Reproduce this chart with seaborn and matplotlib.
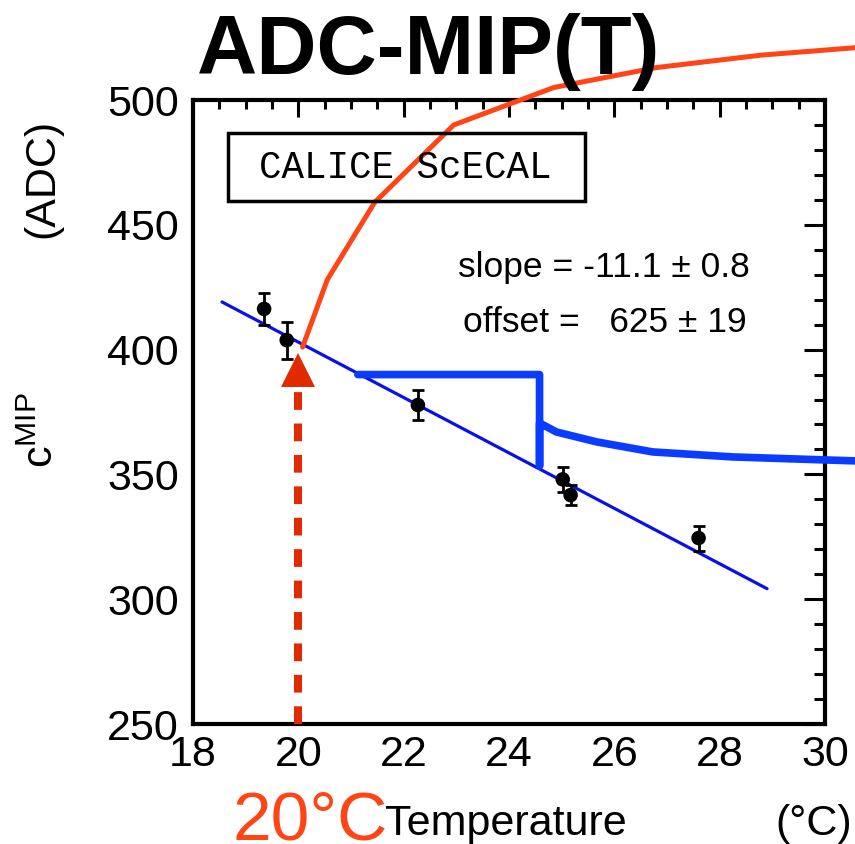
import seaborn as sns
import matplotlib.pyplot as plt
import numpy as np
import pandas as pd
from matplotlib.ticker import MultipleLocator
from matplotlib.patches import Rectangle

# measured points
temp = [19.35, 19.78, 22.27, 25.02, 25.17, 27.6]
adc = [416.3, 403.8, 377.8, 348.0, 341.7, 324.5]
adc_err = [6.4, 7.4, 6.0, 5.0, 4.0, 5.0]

# linear fit
slope, slope_err = -11.1, 0.8
offset, offset_err = 625, 19
fit_x = [18.55, 28.9]

# red curve
red_x = [20.08, 20.55, 21.45, 22.95, 24.85, 26.8, 28.8, 30.6]
red_y = [401, 428, 459, 490, 505, 513, 518, 521]

# thick blue step curve
blue_x = [21.13, 24.58, 24.58, 24.58, 24.9, 25.67, 26.73, 28.25, 30.0, 30.6]
blue_y = [390, 390, 353.4, 370.6, 367, 363, 359, 357, 355.8, 355.4]

ref_temp = 20

sns.set_theme(style="white")
plt.rcParams['font.family'] = ['Liberation Sans', 'DejaVu Sans']
plt.rcParams['text.color'] = 'black'
plt.rcParams['axes.labelcolor'] = 'black'

W, H = 855, 844
fig = plt.figure(figsize=(8.55, 8.44), dpi=100)
ax = fig.add_axes([193/W, 120/H, 632/W, 624/H])

fit_df = pd.DataFrame({"T": fit_x, "ADC": [offset + slope*x for x in fit_x]})
sns.lineplot(data=fit_df, x="T", y="ADC", ax=ax, color="#0a10e8", lw=2.3, zorder=3)

sns.lineplot(x=blue_x, y=blue_y, ax=ax, sort=False, estimator=None,
             color="#0a3cff", lw=5.5, clip_on=False, zorder=3)

sns.lineplot(x=red_x, y=red_y, ax=ax, sort=False, estimator=None,
             color="#ff4415", lw=3.6, clip_on=False, zorder=6)

ax.errorbar(temp, adc, yerr=adc_err, fmt='none', ecolor='black',
            elinewidth=2, capsize=4, capthick=2, zorder=4)
sns.scatterplot(x=temp, y=adc, ax=ax, color='black', s=110, edgecolor='none', zorder=5)

# 20 C arrow
ax.plot([ref_temp, ref_temp], [250, 386], color="#e02a00", lw=5.8,
        dashes=(2.2, 1.7), solid_capstyle='butt', zorder=4, clip_on=False)
ax.plot([ref_temp], [391.8], marker='^', ms=25, color="#e02a00",
        markeredgewidth=0, zorder=4)

ax.set_xlim(18, 30)
ax.set_ylim(250, 500)
ax.xaxis.set_major_locator(MultipleLocator(2))
ax.xaxis.set_minor_locator(MultipleLocator(0.5))
ax.yaxis.set_major_locator(MultipleLocator(50))
ax.yaxis.set_minor_locator(MultipleLocator(10))
ax.tick_params(which='both', direction='in', top=True, right=True, width=2.2,
               color='black', labelsize=31, labelcolor='black')
ax.tick_params(axis='x', which='major', length=12, pad=8)
ax.tick_params(axis='x', which='minor', length=6.5)
ax.tick_params(axis='y', which='major', length=15, pad=10)
ax.tick_params(axis='y', which='minor', length=8)
for sp in ax.spines.values():
    sp.set_linewidth(3)
    sp.set_color('black')
ax.set_xlabel("")
ax.set_ylabel("")

# label box
fig.patches.append(Rectangle((228/W, 1-201/H), 357/W, 68/H, transform=fig.transFigure,
                             fill=False, ec='black', lw=2.5, zorder=2))
fig.text(405/W, 1-168/H, "CALICE ScECAL",
         family=['Liberation Mono', 'DejaVu Sans Mono'], fontsize=27,
         ha='center', va='center', zorder=2)
fig.text(458/W, 1-268/H, f"slope = {slope} \u00b1 {slope_err}",
         fontsize=25.5, ha='left', va='center')
fig.text(463/W, 1-322/H, f"offset =   {offset} \u00b1 {offset_err}",
         fontsize=25.5, ha='left', va='center')

fig.text(197/W, 1-74/H, "ADC-MIP(T)", fontsize=60, fontweight='bold',
         ha='left', va='baseline')
fig.text(42/W, 1-178/H, "(ADC)", fontsize=31, rotation=90, ha='center', va='center')
fig.text(42/W, 1-430/H, r"$\mathregular{c^{MIP}}$", fontsize=31, rotation=90,
         ha='center', va='center')
fig.text(385/W, 1-835/H, "Temperature", fontsize=31, ha='left', va='baseline')
fig.text(852/W, 1-835/H, "(\u00b0C)", fontsize=31, ha='right', va='baseline')
fig.text(232/W, 1-840/H, "20\u00b0C", fontsize=50, color="#ff4415",
         ha='left', va='baseline')

fig.savefig("out.png", dpi=100)
